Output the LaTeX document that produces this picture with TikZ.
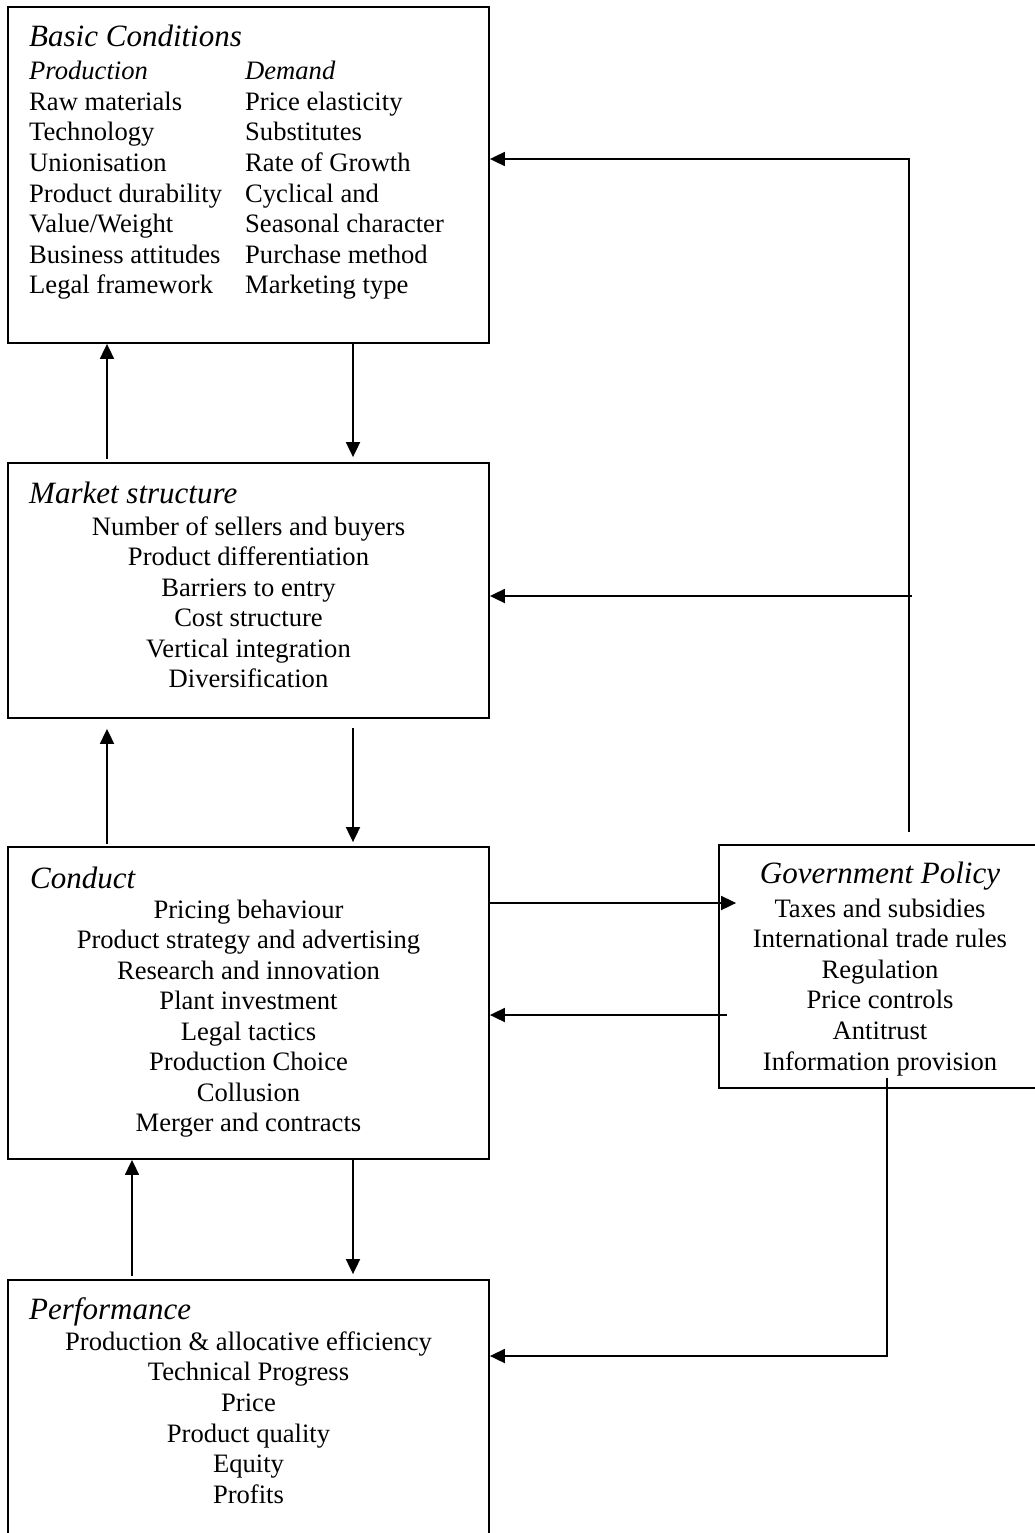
\documentclass[tikz,border=0pt]{standalone}
\usepackage{fontspec}
\setmainfont{Liberation Serif}
\usetikzlibrary{arrows.meta,calc}
\newcommand\bodyfnt{\fontsize{26.6pt}{30.5pt}\selectfont}
\newcommand\headfnt{\fontsize{31pt}{36pt}\selectfont\itshape}
\begin{document}
\begin{tikzpicture}[x=1pt,y=-1pt,
  box/.style={draw,line width=1.8pt,rectangle,inner sep=0pt},
  txtc/.style={inner sep=0pt,anchor=base,font=\bodyfnt},
  txtl/.style={inner sep=0pt,anchor=base west,font=\bodyfnt},
  headl/.style={inner sep=0pt,anchor=base west,font=\headfnt},
  headc/.style={inner sep=0pt,anchor=base,font=\headfnt},
  arr/.style={line width=1.8pt,-{Triangle[length=15pt,width=14pt]}}]
\useasboundingbox (0,0) rectangle (1035,1533);
\clip (0,0) rectangle (1035,1533);
\fill[white] (0,0) rectangle (1035,1533);

% boxes
\node[box,minimum width=481pt,minimum height=336pt] (basic) at (248.5,175) {};
\node[box,minimum width=481pt,minimum height=255pt] (market) at (248.5,590.5) {};
\node[box,minimum width=481pt,minimum height=312pt] (conduct) at (248.5,1003) {};
\node[box,minimum width=481pt,minimum height=265pt] (perf) at (248.5,1412.5) {};
\node[box,minimum width=322pt,minimum height=243pt] (gov) at (880,966.5) {};

% Basic conditions
\node[headl] (bh) at (29,47) {Basic Conditions};
\node[txtl] (bp) at (29,80) {\itshape Production};
\node[txtl] (bd) at (245,80) {\itshape Demand};
\foreach \t [count=\i] in {Raw materials,Technology,Unionisation,Product durability,Value/Weight,Business attitudes,Legal framework}
  \node[txtl] (bl\i) at (29,{110.5+30.5*(\i-1)}) {\t};
\foreach \t [count=\i] in {Price elasticity,Substitutes,Rate of Growth,Cyclical and,Seasonal character,Purchase method,Marketing type}
  \node[txtl] (br\i) at (245,{110.5+30.5*(\i-1)}) {\t};

% Market structure
\node[headl] (mh) at (29,503) {Market structure};
\foreach \t [count=\i] in {Number of sellers and buyers,Product differentiation,Barriers to entry,Cost structure,Vertical integration,Diversification}
  \node[txtc] (m\i) at (248.5,{535+30.5*(\i-1)}) {\t};

% Conduct
\node[headl] (ch) at (30,888) {Conduct};
\foreach \t [count=\i] in {Pricing behaviour,Product strategy and advertising,Research and innovation,Plant investment,Legal tactics,Production Choice,Collusion,Merger and contracts}
  \node[txtc] (c\i) at (248.5,{918+30.5*(\i-1)}) {\t};

% Performance
\node[headl] (ph) at (29,1319) {Performance};
\foreach \t [count=\i] in {Production \& allocative efficiency,Technical Progress,Price,Product quality,Equity,Profits}
  \node[txtc] (p\i) at (248.5,{1350+30.7*(\i-1)}) {\t};

% Government policy
\node[headc] (gh) at (880,883) {Government Policy};
\foreach \t [count=\i] in {Taxes and subsidies,International trade rules,Regulation,Price controls,Antitrust,Information provision}
  \node[txtc] (g\i) at (880,{917+30.6*(\i-1)}) {\t};

% helper coordinates
\coordinate (xL) at (107,0);
\coordinate (xM) at (353,0);
\coordinate (xP) at (132,0);
\coordinate (xG) at (909,0);
\coordinate (xH) at (887,0);
\coordinate (yA) at (0,903);
\coordinate (yB) at (0,1015);
\coordinate (yT) at (0,159);
\coordinate (yS) at (0,596);
\coordinate (yP) at (0,1356);

% vertical connectors
\draw[arr,shorten <=3pt] (market.north -| xL) -- (basic.south -| xL);
\draw[arr,shorten >=5pt] (basic.south -| xM) -- (market.north -| xM);
\draw[arr,shorten <=2pt,shorten >=10pt] (conduct.north -| xL) -- (market.south -| xL);
\draw[arr,shorten <=9pt,shorten >=4pt] (market.south -| xM) -- (conduct.north -| xM);
\draw[arr,shorten <=3pt] (perf.north -| xP) -- (conduct.south -| xP);
\draw[arr,shorten >=5pt] (conduct.south -| xM) -- (perf.north -| xM);

% horizontal connectors with government
\draw[arr,shorten >=-18pt] (conduct.east |- yA) -- (gov.west |- yA);
\draw[arr,shorten <=-9pt] (gov.west |- yB) -- (conduct.east |- yB);

\coordinate (gtop) at ($(gov.north -| xG)+(0,-12)$);
\draw[arr] (gtop) |- (basic.east |- yT);
\draw[arr] ($(gtop |- yS)+(3,0)$) -- (market.east |- yS);
\coordinate (gbot) at ($(gov.south -| xH)+(0,-11)$);
\draw[arr] (gbot) |- (perf.east |- yP);
\end{tikzpicture}
\end{document}
